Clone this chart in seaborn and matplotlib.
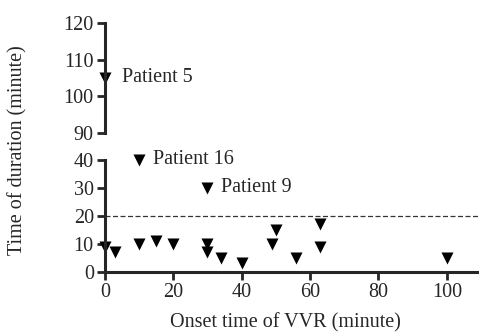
import matplotlib
matplotlib.use("Agg")
import matplotlib.pyplot as plt
import numpy as np
import pandas as pd
import seaborn as sns

# --------------------------------------------------------------------------- #
# Data
# --------------------------------------------------------------------------- #
onset = [0, 3, 10, 15, 20, 30, 30, 34, 40, 49, 50, 56, 63, 63, 100, 10, 30, 0]
duration = [9, 7, 10, 11, 10, 10, 7, 5, 3, 10, 15, 5, 17, 9, 5, 40, 30, 105]
patient_labels = ["Patient 5", "Patient 16", "Patient 9"]
patient_onset = [0, 10, 30]
patient_duration = [105, 40, 30]
lower_yticks = [0, 10, 20, 30, 40]
upper_yticks = [90, 100, 110, 120]
xticks = [0, 20, 40, 60, 80, 100]
threshold = 20

df = pd.DataFrame({"onset": onset, "duration": duration})
low = df[df["duration"] <= 40]
high = df[df["duration"] >= 90]

sns.set_style("ticks")
plt.rcParams["font.family"] = ["Liberation Serif", "DejaVu Serif"]
FS = 14.5

fig = plt.figure(figsize=(4.79, 3.34), dpi=100)
ax_lo = fig.add_axes([0.219, 0.186, 0.781, 0.335])
ax_hi = fig.add_axes([0.219, 0.602, 0.781, 0.329])

marker_kw = dict(marker="v", s=75, color="black", edgecolor="black", linewidth=0, legend=False)
sns.scatterplot(data=low, x="onset", y="duration", ax=ax_lo, clip_on=False, **marker_kw)
sns.scatterplot(data=high, x="onset", y="duration", ax=ax_hi, clip_on=False, **marker_kw)

ax_lo.axhline(threshold, color="#333333", linestyle=(0, (4, 2)), linewidth=0.9, zorder=0)

for ax in (ax_lo, ax_hi):
    ax.set_xlim(0, 109.4)
    ax.set_xlabel("")
    ax.set_ylabel("")
    for side in ("top", "right"):
        ax.spines[side].set_visible(False)
    ax.spines["left"].set_linewidth(2.2)
    ax.spines["bottom"].set_linewidth(2.2)
    ax.tick_params(width=2, length=6, labelsize=FS, pad=2)

ax_lo.set_ylim(0, 40)
ax_lo.set_yticks(lower_yticks)
ax_lo.set_xticks(xticks)

ax_hi.set_ylim(90, 120)
ax_hi.set_yticks(upper_yticks)
ax_hi.spines["bottom"].set_visible(False)
ax_hi.set_xticks([])

offsets = [5, 4, 4]
for lab, x, y, dx in zip(patient_labels, patient_onset, patient_duration, offsets):
    ax = ax_hi if y >= 90 else ax_lo
    ax.text(x + dx, y, lab, va="center", ha="left", fontsize=FS)

fig.text(0.038, 0.55, "Time of duration (minute)", rotation=90, va="center", ha="center", fontsize=FS)
fig.text(0.595, 0.035, "Onset time of VVR (minute)", va="center", ha="center", fontsize=FS)

fig.savefig("out.png", dpi=100)
